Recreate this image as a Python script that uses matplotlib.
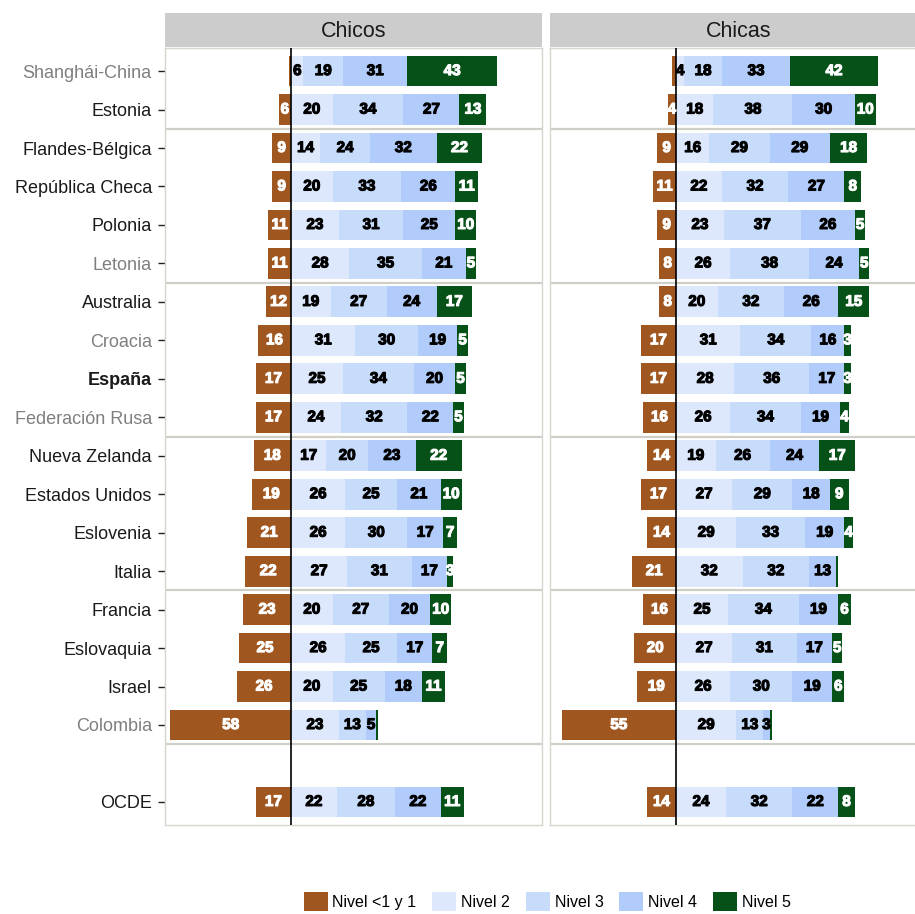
import numpy as np
import matplotlib.pyplot as plt
import matplotlib.patheffects as pe
from matplotlib.patches import Patch

plt.rcParams['font.family'] = ['Liberation Sans', 'DejaVu Sans']

paises = ["Shanghái-China", "Estonia", "Flandes-Bélgica", "República Checa", "Polonia",
          "Letonia", "Australia", "Croacia", "España", "Federación Rusa", "Nueva Zelanda",
          "Estados Unidos", "Eslovenia", "Italia", "Francia", "Eslovaquia", "Israel",
          "Colombia", "OCDE"]
grises = ["Shanghái-China", "Letonia", "Croacia", "Federación Rusa", "Colombia"]
niveles = ["Nivel <1 y 1", "Nivel 2", "Nivel 3", "Nivel 4", "Nivel 5"]

# porcentajes por nivel (chicos)
chicos_n1 = [1, 6, 9, 9, 11, 11, 12, 16, 17, 17, 18, 19, 21, 22, 23, 25, 26, 58, 17]
chicos_n2 = [6, 20, 14, 20, 23, 28, 19, 31, 25, 24, 17, 26, 26, 27, 20, 26, 20, 23, 22]
chicos_n3 = [19, 34, 24, 33, 31, 35, 27, 30, 34, 32, 20, 25, 30, 31, 27, 25, 25, 13, 28]
chicos_n4 = [31, 27, 32, 26, 25, 21, 24, 19, 20, 22, 23, 21, 17, 17, 20, 17, 18, 5, 22]
chicos_n5 = [43, 13, 22, 11, 10, 5, 17, 5, 5, 5, 22, 10, 7, 3, 10, 7, 11, 1, 11]

# porcentajes por nivel (chicas)
chicas_n1 = [2, 4, 9, 11, 9, 8, 8, 17, 17, 16, 14, 17, 14, 21, 16, 20, 19, 55, 14]
chicas_n2 = [4, 18, 16, 22, 23, 26, 20, 31, 28, 26, 19, 27, 29, 32, 25, 27, 26, 29, 24]
chicas_n3 = [18, 38, 29, 32, 37, 38, 32, 34, 36, 34, 26, 29, 33, 32, 34, 31, 30, 13, 32]
chicas_n4 = [33, 30, 29, 27, 26, 24, 26, 16, 17, 19, 24, 18, 19, 13, 19, 17, 19, 3, 22]
chicas_n5 = [42, 10, 18, 8, 5, 5, 15, 3, 3, 4, 17, 9, 4, 1, 6, 5, 6, 1, 8]

colores = ["#A0561F", "#DEE8FD", "#C7DBFB", "#B1CBFA", "#065117"]
color_txt = ["white", "black", "black", "black", "white"]
separadores = [1.5, 5.5, 9.5, 13.5, 17.5]

# fila vacia antes de OCDE
pos = np.arange(len(paises), dtype=float)
pos[-1] += 1

fig = plt.figure(figsize=(9.15, 9.14), dpi=100)
W, H = 915.0, 914.0


def etiqueta(ax, x, y, v, col):
    ax.text(x, y, str(v), ha='center', va='center', fontsize=11, fontweight='bold',
            color=col, zorder=4,
            path_effects=[pe.withStroke(linewidth=0.8, foreground=col)])


def panel(x0, titulo, datos, etiquetas):
    ax = fig.add_axes([x0 / W, 89 / H, 377 / W, 777 / H])
    n1 = np.array(datos[0])
    ax.barh(pos, -n1, height=0.8, color=colores[0], zorder=2)
    for i, v in enumerate(n1):
        if v >= 3:
            etiqueta(ax, -v / 2, pos[i], v, color_txt[0])
    left = np.zeros(len(paises))
    for k in range(1, 5):
        vals = np.array(datos[k])
        ax.barh(pos, vals, left=left, height=0.8, color=colores[k], zorder=2)
        for i, v in enumerate(vals):
            if v >= 3:
                etiqueta(ax, left[i] + v / 2, pos[i], v, color_txt[k])
        left += vals
    ax.axvline(0, color='black', lw=1.2, zorder=3)
    for s in separadores:
        ax.axhline(s, color='#CFCFC7', lw=1.6, zorder=1)
    ax.set_xlim(-60.6, 120.7)
    ax.set_ylim(19.6, -0.6)
    ax.set_xticks([])
    for sp in ax.spines.values():
        sp.set_color('#D6D6CE')
        sp.set_linewidth(1.0)
    if etiquetas:
        ax.set_yticks(pos)
        ax.set_yticklabels(paises, fontsize=13)
        ax.tick_params(axis='y', length=5, width=1, color='#222222', pad=4.5)
        for t in ax.get_yticklabels():
            if t.get_text() in grises:
                t.set_color('#7F7F7F')
            else:
                t.set_color('#1A1A1A')
            if t.get_text() == "España":
                t.set_fontweight('bold')
    else:
        ax.set_yticks([])
    # tira del titulo
    st = fig.add_axes([x0 / W, 867 / H, 377 / W, 34 / H])
    st.set_facecolor('#CCCCCC')
    st.set_xticks([])
    st.set_yticks([])
    for sp in st.spines.values():
        sp.set_visible(False)
    st.text(0.5, 0.45, titulo, ha='center', va='center', fontsize=15.5,
            color='#1A1A1A', transform=st.transAxes)
    return ax


panel(165, "Chicos", [chicos_n1, chicos_n2, chicos_n3, chicos_n4, chicos_n5], True)
panel(550, "Chicas", [chicas_n1, chicas_n2, chicas_n3, chicas_n4, chicas_n5], False)

handles = [Patch(facecolor=c, edgecolor='none') for c in colores]
fig.legend(handles, niveles, loc='center', bbox_to_anchor=(0.598, 0.0137), ncol=5,
           frameon=False, fontsize=11.5, handlelength=1.5, handleheight=1.5,
           handletextpad=0.3, columnspacing=1.0, borderpad=0)

fig.savefig("out.png", dpi=100)
